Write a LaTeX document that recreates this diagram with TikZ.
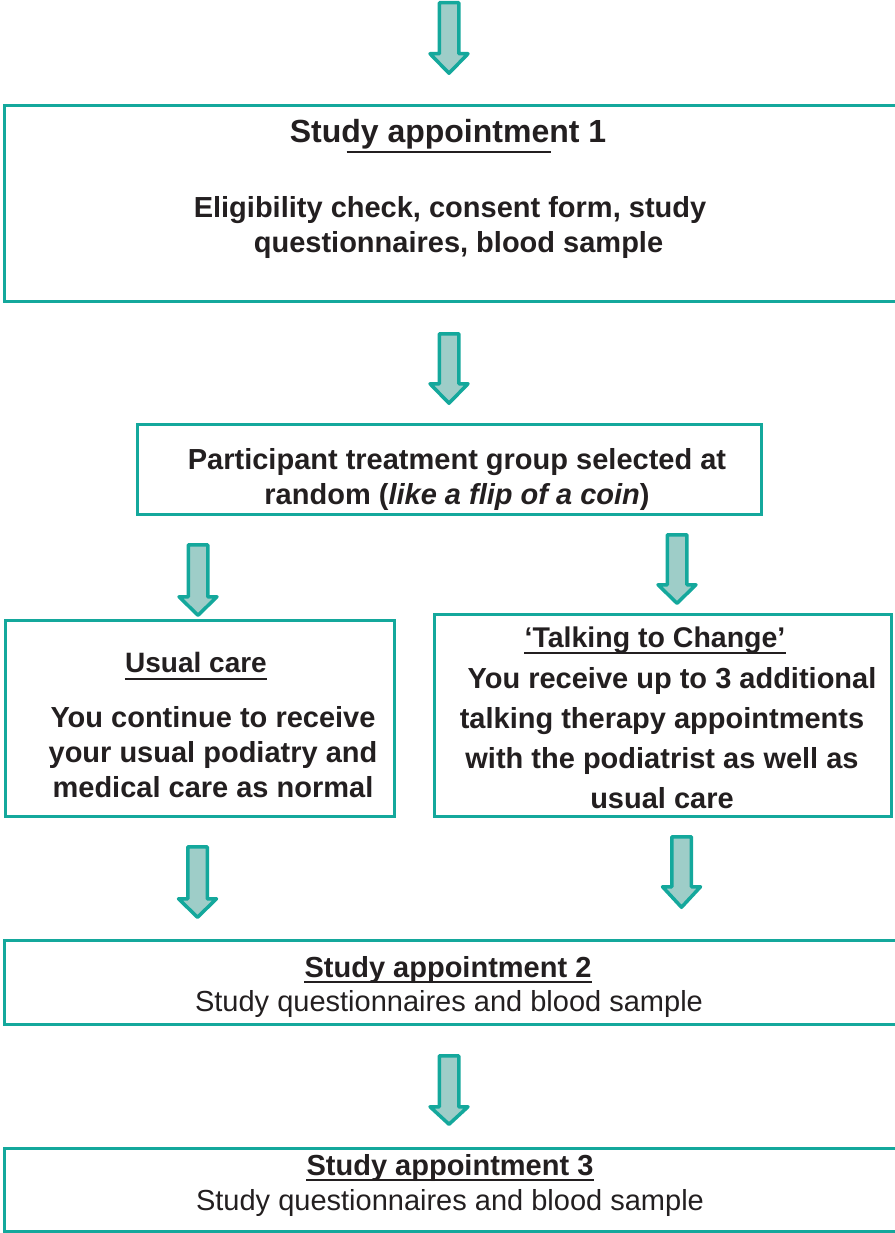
\documentclass[tikz,border=0pt]{standalone}
\usepackage{fontspec}
\setmainfont{Liberation Sans}
\usetikzlibrary{fit}
\definecolor{tealline}{HTML}{14A89C}
\definecolor{tealfill}{HTML}{9ECDC8}
\definecolor{ink}{HTML}{231F20}
\newcommand{\blockarr}[5]{% name, cx, top, base, tip (outer pixel values)
  \coordinate (#1) at (#2,#3);
  \draw[blockarrow] (#2-9.75,#3+1.75) -- (#2+9.75,#3+1.75) -- (#2+9.75,#4+1.75) -- (#2+19,#4+1.75)
     -- (#2,#5-1.75) -- (#2-19,#4+1.75) -- (#2-9.75,#4+1.75) -- cycle;}
\begin{document}
\begin{tikzpicture}[x=1pt,y=-1pt,
  box/.style={draw=tealline,line width=3pt,inner sep=0pt,fill=none},
  blockarrow/.style={draw=tealline,fill=tealfill,line width=3.5pt,line join=round},
  txt/.style={inner sep=0pt,text=ink,align=center,font=\fontsize{29}{35}\selectfont},
  btxt/.style={txt,font=\fontsize{29}{35}\selectfont\bfseries},
  uline/.style={draw=ink,line width=2.5pt}]
\useasboundingbox (0,0) rectangle (894,1233);
\fill[white] (0,0) rectangle (894,1233);

% boxes
\node[box,fit={(4.5,105.5) (897,301.5)}] (b1) {};
\node[box,fit={(137.5,424.5) (761.5,514.5)}] (b2) {};
\node[box,fit={(5.5,620.5) (394,816)}] (b3) {};
\node[box,fit={(434,614.5) (891,816.5)}] (b4) {};
\node[box,fit={(4.5,940.5) (897,1024.5)}] (b5) {};
\node[box,fit={(4.5,1148.5) (897,1231.5)}] (b6) {};

% arrows
\blockarr{a0}{449}{1}{52}{75}
\blockarr{a1}{449}{332}{382}{405}
\blockarr{a2}{198}{543}{595}{617}
\blockarr{a3}{677}{533}{583}{605}
\blockarr{a4}{197.5}{845}{897}{919}
\blockarr{a5}{681.5}{835}{885}{909}
\blockarr{a6}{449}{1054}{1105}{1126}

% box 1
\node[btxt,anchor=base,font=\fontsize{32}{38}\selectfont\bfseries] (t1a) at (448,143) {Study appointment 1};
\draw[uline] ([xshift=57pt,yshift=-9pt]t1a.base west) -- ([xshift=-55pt,yshift=-9pt]t1a.base east);
\node[btxt,font=\fontsize{29}{34.5}\selectfont\bfseries] (t1b) at (450,227.5)
  {Eligibility check, consent form, study\\\hspace*{17pt}questionnaires, blood sample};

% box 2
\node[btxt,font=\fontsize{29}{34.5}\selectfont\bfseries] (t2) at (457,479.5)
  {Participant treatment group selected at\\random (\textit{like a flip of a coin})};

% box 3
\node[btxt,anchor=base,font=\fontsize{28}{34}\selectfont\bfseries] (t3a) at (196,672) {Usual care};
\draw[uline] ([yshift=-7pt]t3a.base west) -- ([yshift=-7pt]t3a.base east);
\node[btxt] (t3b) at (213,752.5)
  {You continue to receive\\your usual podiatry and\\medical care as normal};

% box 4
\node[btxt,anchor=base,font=\fontsize{28.5}{34}\selectfont\bfseries] (t4a) at (655,647) {‘Talking to Change’};
\draw[uline] ([yshift=-6pt]t4a.base west) -- ([yshift=-6pt]t4a.base east);
\node[btxt,font=\fontsize{29}{40}\selectfont\bfseries] (t4b) at (662,738.5)
  {\hspace*{20pt}You receive up to 3 additional\\talking therapy appointments\\with the podiatrist as well as\\usual care};

% box 5
\node[btxt,anchor=base] (t5a) at (448,977) {Study appointment 2};
\draw[uline] ([yshift=-5pt]t5a.base west) -- ([yshift=-5pt]t5a.base east);
\node[txt,anchor=base] (t5b) at (449,1011) {Study questionnaires and blood sample};

% box 6
\node[btxt,anchor=base] (t6a) at (450,1175) {Study appointment 3};
\draw[uline] ([yshift=-5pt]t6a.base west) -- ([yshift=-5pt]t6a.base east);
\node[txt,anchor=base] (t6b) at (450,1210) {Study questionnaires and blood sample};
\end{tikzpicture}
\end{document}
